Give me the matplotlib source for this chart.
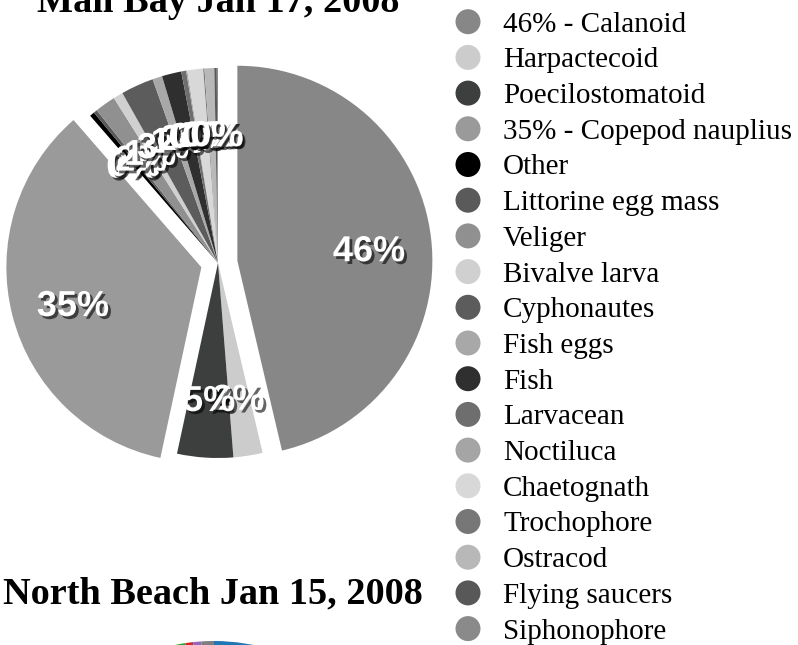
import numpy as np
import matplotlib
matplotlib.use("Agg")
import matplotlib.pyplot as plt
import matplotlib.patheffects as pe

# plankton categories, same order for both sites
categories = ["Calanoid", "Harpactecoid", "Poecilostomatoid", "Copepod nauplius",
              "Other", "Littorine egg mass", "Veliger", "Bivalve larva", "Cyphonautes",
              "Fish eggs", "Fish", "Larvacean", "Noctiluca", "Chaetognath",
              "Trochophore", "Ostracod", "Flying saucers", "Siphonophore"]

# percent of sample
mail_bay = [46.0, 2.4, 4.6, 35.0, 0.4, 0.3, 1.7, 0.8, 2.7,
            0.8, 1.6, 0.4, 0.1, 1.3, 0.1, 0.8, 0.2, 0.1]
# only the top edge of this pie shows, rough guess
north_beach = [40.0, 3.0, 5.0, 30.0, 1.0, 1.0, 4.0, 2.0, 3.0,
               1.0, 1.5, 2.0, 3.0, 0.6, 0.7, 0.0, 0.0, 1.0]

grey_colors = ["#878787", "#cccccc", "#3d3f3f", "#9a9a9a", "#000000", "#5a5a5a",
               "#909090", "#d0d0d0", "#5c5c5c", "#a8a8a8", "#2f2f2f", "#6e6e6e",
               "#a5a5a5", "#d8d8d8", "#777777", "#b8b8b8", "#585858", "#8a8a8a"]

legend_labels = list(categories)
legend_labels[0] = "46% - Calanoid"
legend_labels[3] = "35% - Copepod nauplius"

explode = [0.1, 0, 0, 0.088] + [0] * 14

W, H = 798, 645
fig = plt.figure(figsize=(W / 100, H / 100), dpi=100)

def pie_axes(cx, cy, r, size=460):
    # cx, cy in pixels from bottom-left, r = pie radius in pixels
    ax = fig.add_axes([(cx - size / 2) / W, (cy - size / 2) / H, size / W, size / H])
    return ax, size / 2 / r

# Mail Bay pie
ax1, lim = pie_axes(218, H - 263, 195)
wedges, texts, autotexts = ax1.pie(mail_bay, colors=grey_colors, startangle=90,
                                   counterclock=False, explode=explode,
                                   autopct='%.0f%%', pctdistance=0.68,
                                   wedgeprops=dict(linewidth=0),
                                   textprops=dict(color='white', fontsize=26,
                                                  fontweight='bold',
                                                  family='Liberation Sans'))
for t in autotexts:
    x, y = t.get_position()
    t.set_position((x, y - 0.032))  # labels sit a bit low in the original
    t.set_path_effects([pe.withSimplePatchShadow(offset=(2, -2), shadow_rgbFace='black', alpha=0.6)])
ax1.set_xlim(-lim, lim)
ax1.set_ylim(-lim, lim)

# North Beach pie (runs off the bottom)
ax2, lim2 = pie_axes(214, -191, 195)
ax2.pie(north_beach, startangle=90, counterclock=False, wedgeprops=dict(linewidth=0))
ax2.set_xlim(-lim2, lim2)
ax2.set_ylim(-lim2, lim2)

# titles
fig.text(218 / W, 1 - 12 / H, "Mail Bay Jan 17, 2008", ha='center', va='baseline',
         fontsize=27.5, fontweight='bold', family='Liberation Serif')
fig.text(213 / W, 1 - 603 / H, "North Beach Jan 15, 2008", ha='center', va='baseline',
         fontsize=27.5, fontweight='bold', family='Liberation Serif')

# legend as its own axes, one row per category
axl = fig.add_axes([420 / W, 0, 378 / W, 1])
axl.set_xlim(420, 798)
axl.set_ylim((H - 21.7) / 35.7, -21.7 / 35.7)
axl.axis('off')
rows = np.arange(len(categories))
axl.scatter(np.full(len(rows), 468), rows, s=18 ** 2, c=grey_colors, linewidths=0, clip_on=False)
for i, lab in zip(rows, legend_labels):
    axl.text(503, i + 0.28, lab, va='baseline', ha='left', fontsize=21,
             family='Liberation Serif')

fig.savefig("out.png", dpi=100)
